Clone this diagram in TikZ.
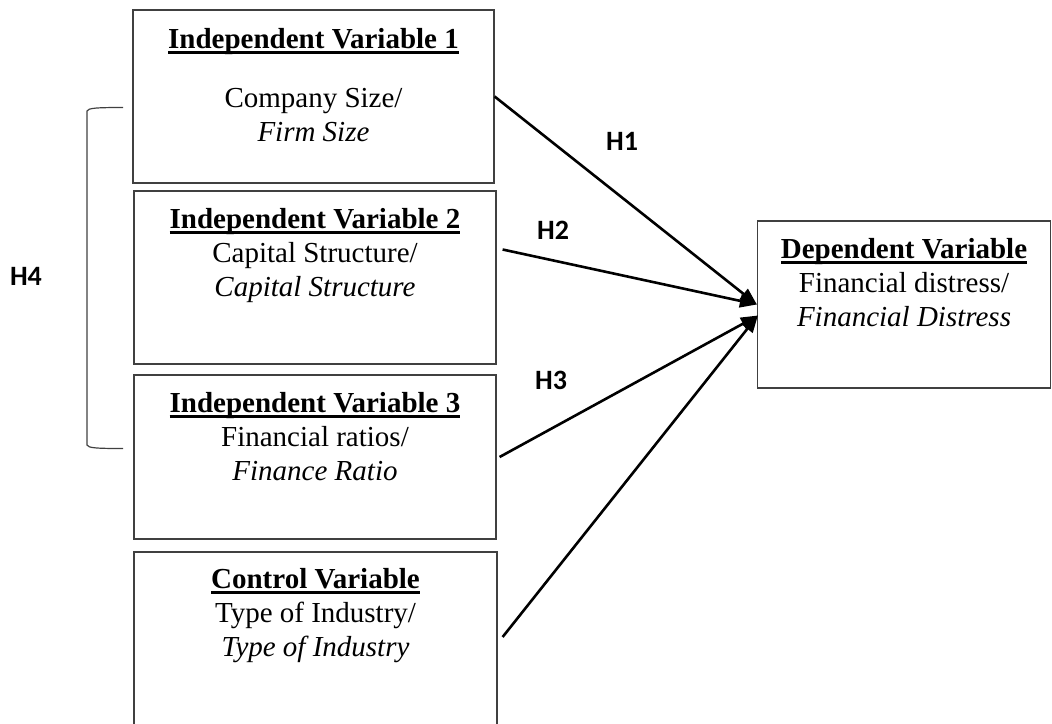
\documentclass[tikz,border=0pt]{standalone}
\usepackage{fontspec}
\setmainfont{Liberation Serif}
\newfontfamily\hypfont{Carlito}
\usetikzlibrary{arrows.meta}

\newsavebox{\headbox}
\newcommand{\ulhead}[1]{\sbox{\headbox}{\bfseries #1}\rlap{\usebox{\headbox}}\rule[-2.4pt]{\wd\headbox}{1.3pt}}

\begin{document}
\begin{tikzpicture}[x=0.5pt, y=-0.5pt,
    varbox/.style={draw=black!75, line width=0.6pt, inner sep=0pt},
    boxtext/.style={anchor=north, align=center, inner sep=0pt, font=\fontsize{14.5}{17}\selectfont},
    hyp/.style={font=\hypfont\bfseries\fontsize{14}{16}\selectfont},
    link/.style={line width=1.3pt, -{Triangle[length=8.5pt,width=6.5pt]}}]
    \useasboundingbox (0,0) rectangle (1052,723);

    % Variable boxes on the left
    \node[varbox, minimum width=180.5pt, minimum height=86.5pt] (iv1) at (313.5,96.5) {};
    \node[varbox, minimum width=181pt, minimum height=86.5pt] (iv2) at (315,277.5) {};
    \node[varbox, minimum width=181pt, minimum height=82pt] (iv3) at (315,457) {};
    \node[varbox, minimum width=181.5pt, minimum height=90pt] (ctrl) at (315.5,642) {};

    \node[boxtext] (iv1txt) at (313.5,28.4) {\ulhead{Independent Variable 1}\\[12.5pt] Company Size/\\ \textit{Firm Size}};
    \node[boxtext] (iv2txt) at (315,208.4) {\ulhead{Independent Variable 2}\\ Capital Structure/\\ \textit{Capital Structure}};
    \node[boxtext] (iv3txt) at (315,392.4) {\ulhead{Independent Variable 3}\\ Financial ratios/\\ \textit{Finance Ratio}};
    \node[boxtext] (ctrltxt) at (315.5,568.4) {\ulhead{Control Variable}\\ Type of Industry/\\ \textit{Type of Industry}};

    % Dependent variable box
    \node[varbox, minimum width=146.5pt, minimum height=83.5pt] (dv) at (904,304.5) {};
    \node[boxtext] (dvtxt) at (904,238.4) {\ulhead{Dependent Variable}\\ Financial distress/\\ \textit{Financial Distress}};

    % Hypothesis arrows
    \draw[link] (iv1.east) -- (dv.west);
    \draw[link] ([xshift=3pt,yshift=14pt]iv2.east) -- (dv.west);
    \draw[link] ([xshift=1.5pt]iv3.east) -- ([xshift=0.5pt,yshift=-5.5pt]dv.west);
    \draw[link] ([xshift=2.5pt,yshift=2.5pt]ctrl.east) -- ([xshift=0.5pt,yshift=-5.5pt]dv.west);

    \node[hyp] (h1) at (622,141) {H1};
    \node[hyp] (h2) at (553,230) {H2};
    \node[hyp] (h3) at (551,380) {H3};

    % Bracket for H4
    \draw[black!75, line width=0.6pt] (123,107.5) .. controls (97,107.5) and (88,108) .. (87,111)
        -- (87,445) .. controls (88,448) and (97,448.5) .. (123,448.5);
    \node[hyp] (h4) at (26,276) {H4};
\end{tikzpicture}
\end{document}
